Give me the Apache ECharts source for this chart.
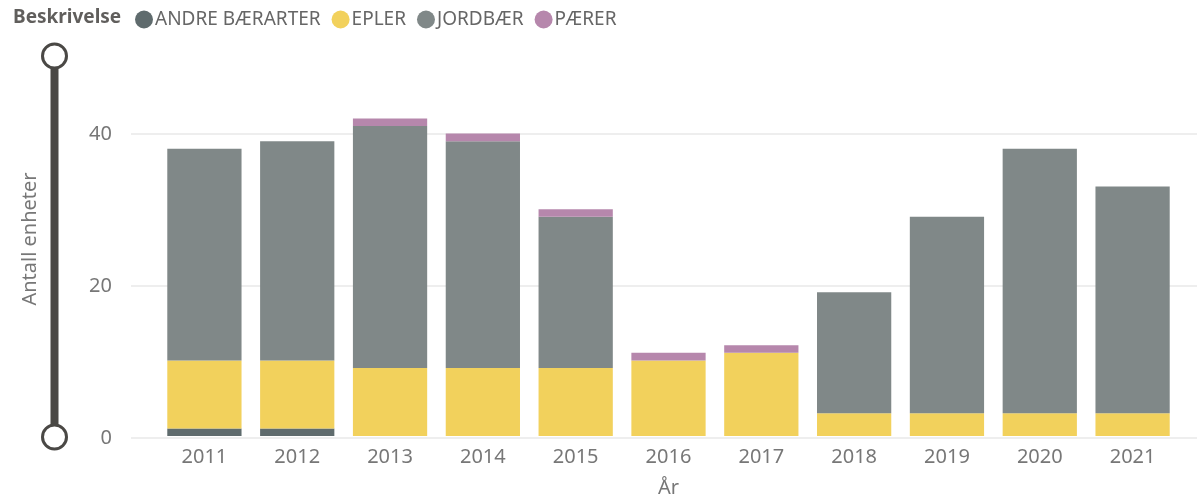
<!DOCTYPE html>
<html>
<head>
<meta charset="utf-8">
<script src="https://cdn.jsdelivr.net/npm/echarts@6/dist/echarts.min.js"></script>
<style>
  html, body { margin: 0; padding: 0; background: #fff; }
  #chart { width: 1197px; height: 503px; }
</style>
</head>
<body>
<div id="chart"></div>
<script>
// Data
const years = ['2011', '2012', '2013', '2014', '2015', '2016', '2017', '2018', '2019', '2020', '2021']
const andreBaerarter = [1, 1, 0, 0, 0, 0, 0, 0, 0, 0, 0]
const epler = [9, 9, 9, 9, 9, 10, 11, 3, 3, 3, 3]
const jordbaer = [28, 29, 32, 30, 20, 0, 0, 16, 26, 35, 30]
const paerer = [0, 0, 1, 1, 1, 1, 1, 0, 0, 0, 0]
const yTicks = [0, 20, 40]

const font = '"Segoe UI", "Noto Sans", sans-serif'
const textGrey = '#777777'

const chart = echarts.init(document.getElementById('chart'))

const barSeries = (name, data, color) => ({
  name,
  type: 'bar',
  stack: 'total',
  xAxisIndex: 1,
  yAxisIndex: 1,
  barCategoryGap: '20%',
  itemStyle: { color },
  emphasis: { disabled: true },
  data,
})

chart.setOption({
  animation: false,
  textStyle: { fontFamily: font },
  title: {
    text: 'Beskrivelse',
    left: 8,
    top: 3,
    textStyle: { fontFamily: font, fontSize: 19, fontWeight: 'bold', color: '#605E5C' },
  },
  legend: {
    left: 130,
    top: 5,
    icon: 'circle',
    itemWidth: 18,
    itemHeight: 18,
    itemGap: 11,
    textStyle: { fontFamily: font, fontSize: 19, color: '#666666', padding: [0, 0, 0, -3] },
    data: ['ANDRE BÆRARTER', 'EPLER', 'JORDBÆR', 'PÆRER'],
  },
  grid: [
    // grid used only for the horizontal grid lines and y tick labels
    { left: 131, right: 0, top: 134, bottom: 65 },
    // grid holding the bars
    { left: 158, right: 18, top: 58, bottom: 65 },
  ],
  xAxis: [
    { gridIndex: 0, type: 'value', show: false },
    {
      gridIndex: 1,
      type: 'category',
      data: years,
      axisLine: { show: false },
      axisTick: { show: false },
      axisLabel: { color: textGrey, fontSize: 20, fontFamily: font, margin: 11 },
      name: 'År',
      nameLocation: 'middle',
      nameGap: 42,
      nameTextStyle: { color: textGrey, fontSize: 20, fontFamily: font },
    },
  ],
  yAxis: [
    {
      gridIndex: 0,
      type: 'value',
      min: yTicks[0],
      max: yTicks[yTicks.length - 1],
      interval: 20,
      axisLine: { show: false },
      axisTick: { show: false },
      axisLabel: { color: textGrey, fontSize: 20, fontFamily: font, margin: 19 },
      splitLine: { lineStyle: { color: '#E8E8E8', width: 1.5 } },
    },
    {
      gridIndex: 1,
      type: 'value',
      min: 0,
      max: 50,
      axisLine: { show: false },
      axisTick: { show: false },
      axisLabel: { show: false },
      splitLine: { show: false },
      name: 'Antall enheter',
      nameLocation: 'middle',
      nameGap: 118,
      nameTextStyle: { color: textGrey, fontSize: 20, fontFamily: font, padding: [0, 0, 0, 16] },
    },
  ],
  dataZoom: [
    {
      type: 'slider',
      yAxisIndex: 1,
      orient: 'vertical',
      filterMode: 'none',
      start: 0,
      end: 100,
      left: 49,
      width: 8,
      top: 55,
      bottom: 65,
      backgroundColor: 'transparent',
      borderColor: 'transparent',
      fillerColor: '#4A4845',
      showDataShadow: false,
      showDetail: false,
      brushSelect: false,
      moveHandleSize: 0,
      handleIcon: 'circle',
      handleSize: 24,
      handleStyle: { color: '#ffffff', borderColor: '#4A4845', borderWidth: 3 },
      emphasis: { handleStyle: { color: '#ffffff', borderColor: '#4A4845', borderWidth: 3 } },
    },
  ],
  series: [
    barSeries('ANDRE BÆRARTER', andreBaerarter, '#5F6B6D'),
    barSeries('EPLER', epler, '#F2D15C'),
    barSeries('JORDBÆR', jordbaer, '#808888'),
    barSeries('PÆRER', paerer, '#B687AC'),
  ],
})
</script>
</body>
</html>
